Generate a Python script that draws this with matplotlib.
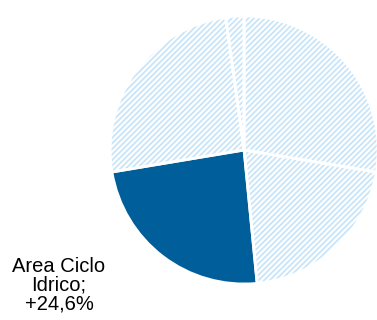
import matplotlib
matplotlib.use("Agg")
import matplotlib.pyplot as plt

# quote per area (in senso orario dall'alto)
aree = ["Area A", "Area B", "Area Ciclo Idrico", "Area C", "Area D"]
quote = [27.6, 20.8, 23.9, 25.4, 2.2]
etichetta = "Area Ciclo\nIdrico;\n+24,6%"
evidenziata = "Area Ciclo Idrico"

DARK = "#005f9a"
LIGHT = "#c8e5f9"

plt.rcParams["font.family"] = ["Liberation Sans", "DejaVu Sans"]
plt.rcParams["hatch.linewidth"] = 1.3

fig = plt.figure(figsize=(3.77, 3.20), dpi=100)
fig.patch.set_facecolor("white")
ax = fig.add_axes([0.292, 0.1125, 0.711, 0.8375])

wedges, _ = ax.pie(quote, startangle=90, counterclock=False,
                   wedgeprops=dict(linewidth=0))
for w, a in zip(wedges, aree):
    if a == evidenziata:
        w.set_facecolor(DARK)
        w.set_edgecolor(DARK)
    else:
        w.set_facecolor("white")
        w.set_edgecolor(LIGHT)
        w.set_hatch("//////")

# bordi bianchi tra gli spicchi
ax.pie(quote, startangle=90, counterclock=False,
       wedgeprops=dict(facecolor="none", edgecolor="white", linewidth=2.0))
ax.set_xlim(-1.0, 1.0)
ax.set_ylim(-1.0, 1.0)
ax.set_aspect("equal")
ax.set_axis_off()

fig.text(59 / 377, 1 - 285 / 320, etichetta, ha="center", va="center",
         multialignment="center", fontsize=14.5, linespacing=1.0)

plt.savefig("out.png", dpi=100, facecolor="white")
plt.close()
